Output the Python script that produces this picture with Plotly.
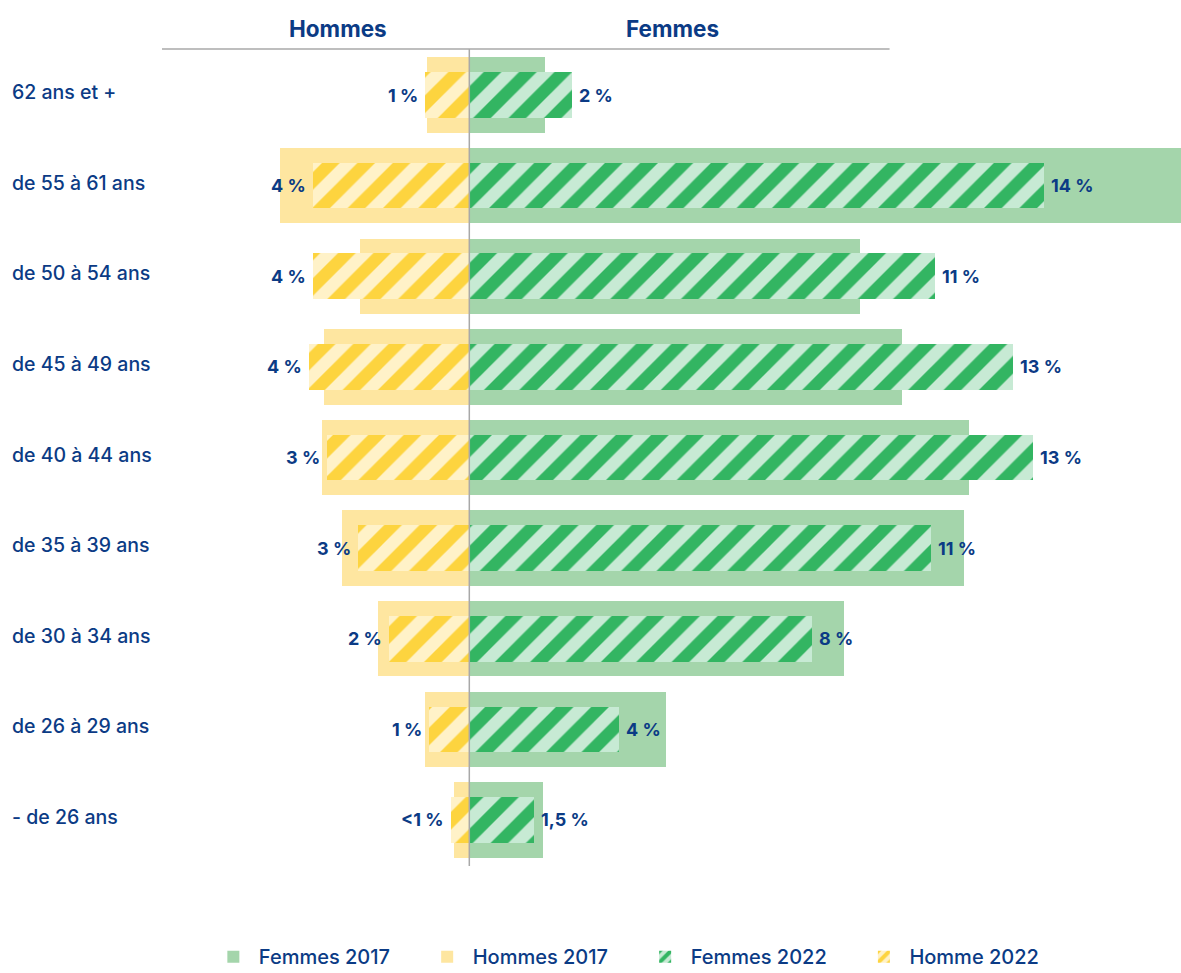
import plotly.graph_objects as go

categories = ["62 ans et +", "de 55 à 61 ans", "de 50 à 54 ans", "de 45 à 49 ans",
              "de 40 à 44 ans", "de 35 à 39 ans", "de 30 à 34 ans", "de 26 à 29 ans",
              "- de 26 ans"]
femmes_2017 = [1.84, 17.5, 9.51, 10.52, 12.16, 12.04, 9.11, 4.78, 1.79]
hommes_2017 = [1.03, 4.61, 2.66, 3.53, 3.58, 3.10, 2.22, 1.08, 0.37]
femmes_2022 = [2.49, 13.98, 11.33, 13.24, 13.72, 11.23, 8.35, 3.64, 1.57]
hommes_2022 = [1.09, 3.80, 3.80, 3.90, 3.47, 2.72, 1.95, 0.98, 0.45]
femmes_2022_labels = ["2 %", "14 %", "11 %", "13 %", "13 %", "11 %", "8 %", "4 %", "1,5 %"]
hommes_2022_labels = ["1 %", "4 %", "4 %", "4 %", "3 %", "3 %", "2 %", "1 %", "<1 %"]
series_names = ["Femmes 2017", "Hommes 2017", "Femmes 2022", "Homme 2022"]

NAVY = "#0b3b85"
GREY = "#a8a8a8"
FONT = "Inter"
PAD = "\u00a0" * 5  # spacing between legend entries


def legend_name(name, last=False):
    return name if last else name + PAD


fig = go.Figure()
fig.add_trace(go.Bar(
    name=legend_name(series_names[0]), y=categories, x=femmes_2017, orientation="h",
    width=0.833, marker=dict(color="#a4d5ab", line=dict(width=0)),
))
fig.add_trace(go.Bar(
    name=legend_name(series_names[1]), y=categories, x=[-v for v in hommes_2017],
    orientation="h", width=0.833, marker=dict(color="#fee6a0", line=dict(width=0)),
))
fig.add_trace(go.Bar(
    name=legend_name(series_names[2]), y=categories, x=femmes_2022, orientation="h",
    width=0.504,
    marker=dict(color="#c7ead4", line=dict(width=0),
                pattern=dict(shape="/", fgcolor="#33b562", bgcolor="#c7ead4",
                             size=25, solidity=0.5, fillmode="overlay", fgopacity=1)),
))
fig.add_trace(go.Bar(
    name=legend_name(series_names[3], last=True), y=categories,
    x=[-v for v in hommes_2022], orientation="h", width=0.504,
    marker=dict(color="#fff2c8", line=dict(width=0),
                pattern=dict(shape="/", fgcolor="#fdd43f", bgcolor="#fff2c8",
                             size=25, solidity=0.5, fillmode="overlay", fgopacity=1)),
))

annotations = []
for cat, v, t in zip(categories, femmes_2022, femmes_2022_labels):
    annotations.append(dict(x=v, y=cat, xref="x", yref="y", text=t, showarrow=False,
                            xanchor="left", xshift=5,
                            font=dict(family=FONT, size=18, color=NAVY, weight=700)))
for cat, v, t in zip(categories, hommes_2022, hommes_2022_labels):
    annotations.append(dict(x=-v, y=cat, xref="x", yref="y", text=t, showarrow=False,
                            xanchor="right", xshift=-5,
                            font=dict(family=FONT, size=18, color=NAVY, weight=700)))
for cat in categories:
    annotations.append(dict(x=-0.149, y=cat, xref="paper", yref="y", text=cat,
                            showarrow=False, xanchor="left", yshift=3,
                            font=dict(family=FONT, size=19.5, color=NAVY, weight=500)))
annotations.append(dict(x=0.173, y=1.0245, xref="paper", yref="paper", text="Hommes",
                        showarrow=False, xanchor="center", yanchor="middle",
                        font=dict(family=FONT, size=22.5, color=NAVY, weight=700)))
annotations.append(dict(x=0.5005, y=1.0245, xref="paper", yref="paper", text="Femmes",
                        showarrow=False, xanchor="center", yanchor="middle",
                        font=dict(family=FONT, size=22.5, color=NAVY, weight=700)))

shapes = [
    dict(type="line", xref="x", yref="paper", x0=0, x1=0, y0=0, y1=1,
         line=dict(color=GREY, width=1.5), layer="above"),
    dict(type="line", xref="paper", yref="paper", x0=0, x1=0.714, y0=1, y1=1,
         line=dict(color=GREY, width=1.5), layer="above"),
]

fig.update_layout(
    width=1181, height=973,
    margin=dict(l=162, r=0, t=49, b=107, autoexpand=False),
    paper_bgcolor="white", plot_bgcolor="white",
    barmode="overlay", bargap=0,
    font=dict(family=FONT, color=NAVY),
    xaxis=dict(range=[-7.477, 17.316], showgrid=False, zeroline=False,
               showticklabels=False, showline=False, fixedrange=True),
    yaxis=dict(categoryorder="array", categoryarray=categories,
               range=[8.508, -0.508], showgrid=False, zeroline=False,
               showticklabels=False, showline=False),
    legend=dict(orientation="h", x=0.045, xanchor="left", y=-0.111, yanchor="middle",
                font=dict(family=FONT, size=20, color=NAVY, weight=500),
                traceorder="normal", itemwidth=41),
    annotations=annotations,
    shapes=shapes,
    showlegend=True,
)

fig.write_html("out.html", config={"displayModeBar": False},
               post_script="document.body.style.margin='0';document.body.style.overflow='hidden';")
